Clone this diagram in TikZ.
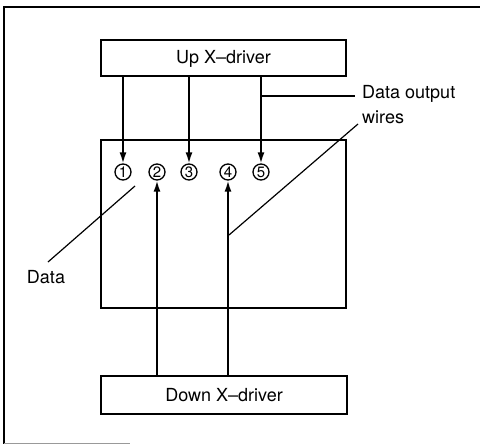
\documentclass[tikz,border=0pt]{standalone}
\usepackage{fontspec}
\setmainfont{TeX Gyre Heros}
\usetikzlibrary{arrows.meta}
\begin{document}
\begin{tikzpicture}[x=1pt,y=-1pt,
  box/.style={draw,line width=2.4pt},
  wire/.style={line width=1.7pt,-{Latex[length=11pt,width=7pt]}},
  leader/.style={line width=1.2pt},
  lbl/.style={font=\fontsize{18}{20}\selectfont,inner sep=0pt},
  num/.style={draw,circle,line width=1.3pt,minimum size=16pt,inner sep=0pt,
    font=\fontsize{15}{15}\selectfont}]
\useasboundingbox (0,0) rectangle (480,444);
% outer frame
\draw[line width=2pt] (480,7) -- (4,7) -- (4,444);
\draw[line width=0.8pt,black!40] (4,443) -- (130,443);
% driver boxes and panel
\draw[box] (101,40) rectangle (346,76);
\node[lbl] (up) at (223.5,59) {Up X--driver};
\draw[box] (101,140) rectangle (346,308);
\draw[box] (101,376) rectangle (347,414);
\node[lbl] (down) at (224,395) {Down X--driver};
\coordinate (uptop1) at (123,77);
\coordinate (uptop3) at (189,77);
\coordinate (uptop5) at (261,77);
\coordinate (dn2) at (157,375);
\coordinate (dn4) at (228,375);
% circled data numbers
\node[num] (n1) at (123,172) {1};
\node[num] (n2) at (157,172) {2};
\node[num] (n3) at (189,172) {3};
\node[num] (n4) at (228,172) {4};
\node[num] (n5) at (261,172) {5};
% output wires
\draw[wire] (uptop1) -- (n1);
\draw[wire] (uptop3) -- (n3);
\draw[wire] (uptop5) -- (n5);
\draw[wire] (dn2) -- (n2);
\draw[wire] (dn4) -- (n4);
% labels and leaders
\node[lbl,anchor=west] (dow) at (362,94) {Data output};
\node[lbl,anchor=west] (wires) at (362,117) {wires};
\coordinate (w5) at (262,96);
\coordinate (w4) at (229,235);
\draw[leader] (w5) -- (355,96);
\draw[leader] (358,124) -- (w4);
\node[lbl] (data) at (46,277) {Data};
\draw[leader] (135,186) -- (48,262);
\end{tikzpicture}
\end{document}
